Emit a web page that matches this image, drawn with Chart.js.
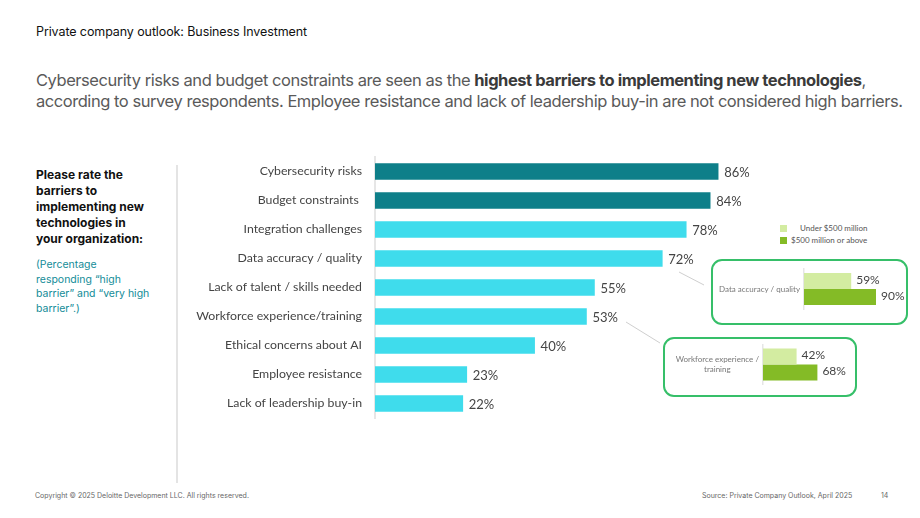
<!DOCTYPE html>
<html>
<head>
<meta charset="utf-8">
<script src="https://cdn.jsdelivr.net/npm/chart.js@4.4.1/dist/chart.umd.min.js"></script>
<style>
  html, body { margin: 0; padding: 0; background: #fff; }
  body { width: 920px; height: 518px; position: relative; overflow: hidden; font-family: Inter, "Noto Sans", sans-serif; }
  .abs { position: absolute; }
  #kicker { left: 36px; top: 24px; font-size: 12.5px; letter-spacing: -0.1px; color: #111; white-space: nowrap; }
  #headline { left: 36px; top: 70px; font-size: 16.5px; line-height: 21px; color: #5a5a5a; letter-spacing: -0.45px; white-space: nowrap; }
  #headline b { color: #3a3a3a; font-weight: 700; }
  #question { left: 36px; top: 167px; font-size: 12px; line-height: 16px; font-weight: 700; color: #111; white-space: nowrap; }
  #note { left: 36px; top: 258px; font-size: 10.5px; line-height: 14.5px; color: #138c98; white-space: nowrap; }
  #sep { left: 176px; top: 165px; width: 2px; height: 318px; background: #e4e4e4; }
  .box { border: 2px solid #36bf69; border-radius: 11px; box-sizing: border-box; }
  #box1 { left: 711px; top: 259px; width: 197px; height: 66px; }
  #box2 { left: 663px; top: 337px; width: 194px; height: 60px; }
  .foot { top: 491px; font-size: 7px; color: #666; white-space: nowrap; }
  .leg { font-family: Lato, "Noto Sans", sans-serif; font-size: 8px; color: #555; white-space: nowrap; }
  .sw { width: 7px; height: 7px; }
</style>
</head>
<body>
<div id="kicker" class="abs">Private company outlook: Business Investment</div>
<div id="headline" class="abs">Cybersecurity risks and budget constraints are seen as the <b>highest barriers to implementing new technologies</b>,<br>according to survey respondents. Employee resistance and lack of leadership buy-in are not considered high barriers.</div>
<div id="question" class="abs">Please rate the<br>barriers to<br>implementing new<br>technologies in<br>your organization:</div>
<div id="note" class="abs">(Percentage<br>responding “high<br>barrier” and “very high<br>barrier”.)</div>
<div id="sep" class="abs"></div>

<svg class="abs" style="left:0;top:0" width="920" height="518">
  <line x1="679" y1="272" x2="704" y2="285" stroke="#cfcfcf" stroke-width="1"/>
  <line x1="626" y1="322" x2="660" y2="343" stroke="#cfcfcf" stroke-width="1"/>
</svg>

<div id="box1" class="abs box"></div>
<div id="box2" class="abs box"></div>

<div class="abs sw" style="left:780px;top:225px;background:#d3eca1"></div>
<div class="abs sw" style="left:780px;top:237px;background:#84bb26"></div>
<div class="abs leg" style="left:800px;top:223px">Under $500 million</div>
<div class="abs leg" style="left:791px;top:235px">$500 million or above</div>

<canvas id="main" class="abs" style="left:180px;top:150px" width="620" height="280"></canvas>
<canvas id="in1" class="abs" style="left:713px;top:262px" width="200" height="56"></canvas>
<canvas id="in2" class="abs" style="left:665px;top:339px" width="200" height="52"></canvas>

<div class="abs foot" style="left:35px">Copyright © 2025 Deloitte Development LLC. All rights reserved.</div>
<div class="abs foot" style="left:702px">Source: Private Company Outlook, April 2025</div>
<div class="abs foot" style="left:881px">14</div>

<script>
const categories = ["Cybersecurity risks", "Budget constraints ", "Integration challenges", "Data accuracy / quality", "Lack of talent / skills needed", "Workforce experience/training", "Ethical concerns about AI", "Employee resistance", "Lack of leadership buy-in"];
const values = [86, 84, 78, 72, 55, 53, 40, 23, 22];
const highlighted = [true, true, false, false, false, false, false, false, false];

const sizeLabels = ["Under $500 million", "$500 million or above"];
const dataAccuracyBySize = [59, 90];
const workforceBySize = [42, 68];

const DARK = "#0e7f89", LIGHT = "#3fdcec";
const LGREEN = "#d3eca1", DGREEN = "#84bb26";
const LABEL_FONT = "Lato, 'Noto Sans', sans-serif";

const valueLabels = {
  id: "valueLabels",
  afterDatasetsDraw(chart, args, opts) {
    const ctx = chart.ctx;
    ctx.save();
    ctx.font = opts.font;
    ctx.fillStyle = opts.color;
    ctx.textBaseline = "middle";
    ctx.textAlign = "left";
    chart.data.datasets.forEach((ds, di) => {
      const meta = chart.getDatasetMeta(di);
      meta.data.forEach((bar, i) => {
        ctx.fillText(ds.data[i] + "%", bar.x + opts.offset, bar.y + (opts.dy || 0));
      });
    });
    ctx.restore();
  }
};

function fixedWidth(w) {
  return function (axis) {
    axis.width = w;
    axis.paddingTop = 0;
    axis.paddingBottom = 0;
  };
}

new Chart(document.getElementById("main"), {
  type: "bar",
  data: {
    labels: categories,
    datasets: [{
      data: values,
      backgroundColor: highlighted.map(h => h ? DARK : LIGHT),
      barThickness: 16,
      borderWidth: 0
    }]
  },
  options: {
    indexAxis: "y",
    responsive: false,
    animation: false,
    layout: { padding: { top: 7, bottom: 12, left: 0, right: 26 } },
    plugins: {
      legend: { display: false },
      tooltip: { enabled: false },
      valueLabels: { font: "13px " + LABEL_FONT, color: "#444", offset: 6, dy: 1 }
    },
    scales: {
      x: { display: false, min: 0, max: 100 },
      y: {
        afterFit: fixedWidth(195),
        grid: { display: false, drawTicks: false },
        border: { display: true, color: "#e6e6e6", width: 2 },
        ticks: { color: "#444", font: { family: LABEL_FONT, size: 12.3 }, padding: 13 }
      }
    }
  },
  plugins: [valueLabels]
});

function inset(id, label, vals, axisW, topPad, botPad) {
  new Chart(document.getElementById(id), {
    type: "bar",
    data: {
      labels: [label],
      datasets: [
        { label: sizeLabels[0], data: [vals[0]], backgroundColor: LGREEN, categoryPercentage: 0.8, barPercentage: 1, borderWidth: 0 },
        { label: sizeLabels[1], data: [vals[1]], backgroundColor: DGREEN, categoryPercentage: 0.8, barPercentage: 1, borderWidth: 0 }
      ]
    },
    options: {
      indexAxis: "y",
      responsive: false,
      animation: false,
      layout: { padding: { top: topPad, bottom: botPad, left: 0, right: 200 - axisW - 80 } },
      plugins: {
        legend: { display: false },
        tooltip: { enabled: false },
        valueLabels: { font: "12px " + LABEL_FONT, color: "#444", offset: 5, dy: -1 }
      },
      scales: {
        x: { display: false, min: 0, max: 100 },
        y: {
          afterFit: fixedWidth(axisW),
          grid: { display: false, drawTicks: false },
          border: { display: true, color: "#e6e6e6", width: 1.5 },
          ticks: { color: "#777", font: { family: LABEL_FONT, size: 8 }, crossAlign: "center", padding: 4, lineHeight: 1.4 }
        }
      }
    },
    plugins: [valueLabels]
  });
}

inset("in1", "Data accuracy / quality", dataAccuracyBySize, 91, 7, 9);
inset("in2", ["Workforce experience /", "training"], workforceBySize, 98, 5.5, 6.5);
</script>
</body>
</html>
